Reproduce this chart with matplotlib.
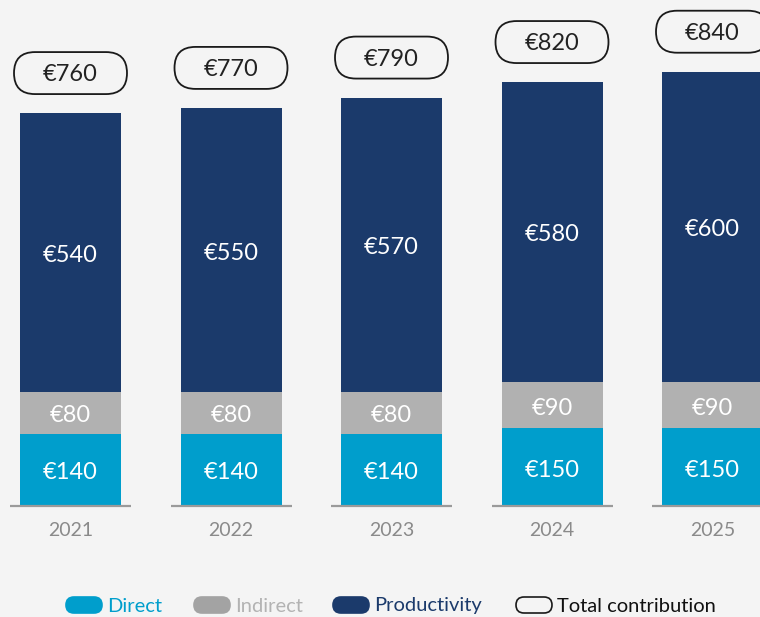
import numpy as np
import matplotlib
matplotlib.use('Agg')
from matplotlib import pyplot as plt
from matplotlib.patches import FancyBboxPatch

years = ['2021', '2022', '2023', '2024', '2025']
direct = [140, 140, 140, 150, 150]
indirect = [80, 80, 80, 90, 90]
productivity = [540, 550, 570, 580, 600]
totals = [760, 770, 790, 820, 840]

c_direct = '#009ECC'
c_indirect = '#B1B1B1'
c_prod = '#1B3A6B'
bg = '#F4F4F4'

plt.rcParams['font.family'] = ['Lato', 'DejaVu Sans']

W, H = 760, 617
fig = plt.figure(figsize=(W / 100, H / 100), dpi=100, facecolor=bg)

# bar axes: baseline at 506px from top, 0.517 px per unit, 160.5 px per bar
base_px = 506
py = 0.517
px = 160.5
x0 = 70.5
ax = fig.add_axes([0, (H - base_px) / H, 1, base_px / H])
ax.set_facecolor(bg)
ax.set_xlim(-x0 / px, (W - x0) / px)
ax.set_ylim(0, base_px / py)
ax.axis('off')

x = np.arange(len(years))
bw = 101 / px
direct = np.array(direct)
indirect = np.array(indirect)
productivity = np.array(productivity)

ax.bar(x, direct, bw, color=c_direct)
ax.bar(x, indirect, bw, bottom=direct, color=c_indirect)
ax.bar(x, productivity, bw, bottom=direct + indirect, color=c_prod)

fs = 17
dy = -3 / py  # nudge labels down a bit
for i in x:
    ax.text(i, direct[i] / 2 + dy, f'€{direct[i]}', ha='center', va='center',
            color='white', fontsize=fs)
    ax.text(i, direct[i] + indirect[i] / 2 + dy, f'€{indirect[i]}', ha='center',
            va='center', color='white', fontsize=fs)
    ax.text(i, direct[i] + indirect[i] + productivity[i] / 2 + dy, f'€{productivity[i]}',
            ha='center', va='center', color='white', fontsize=fs)
    # baseline segment
    ax.hlines(0, i - 60.5 / px, i + 60.5 / px, color='#9A9A9A', lw=1.6, clip_on=False)
    ax.text(i, -25 / py, years[i], ha='center', va='center', color='#8A8A8A',
            fontsize=14, clip_on=False)
    # total pill
    bwid = 113 / px
    bh = 42 / py
    cy = totals[i] + 40 / py
    pill = FancyBboxPatch((i - bwid / 2, cy - bh / 2), bwid, bh,
                          boxstyle=f'round,pad=0,rounding_size={21 / px}',
                          mutation_aspect=px / py, facecolor='none',
                          edgecolor='#1A1A1A', lw=1.3, clip_on=False)
    ax.add_patch(pill)
    ax.text(i, cy + dy / 2, f'€{totals[i]}', ha='center', va='center', color='#222222',
            fontsize=fs)

# legend drawn in pixel units
lax = fig.add_axes([0, 0, 1, 40 / H])
lax.set_xlim(0, W)
lax.set_ylim(0, 40)
lax.axis('off')
lax.set_facecolor(bg)
ly = 617 - 605
items = [
    (66, 'Direct', c_direct, c_direct, c_direct),
    (194, 'Indirect', '#A3A3A3', '#A3A3A3', '#B3B3B3'),
    (333, 'Productivity', c_prod, c_prod, c_prod),
    (516, 'Total contribution', 'none', '#1A1A1A', '#111111'),
]
for lx, label, fc, ec, tc in items:
    p = FancyBboxPatch((lx, ly - 8), 36, 16, boxstyle='round,pad=0,rounding_size=8',
                       facecolor=fc, edgecolor=ec, lw=1.2)
    lax.add_patch(p)
    lax.text(lx + 41, ly - 1, label, ha='left', va='center', color=tc, fontsize=14.5)

fig.savefig('out.png', dpi=100, facecolor=bg)
